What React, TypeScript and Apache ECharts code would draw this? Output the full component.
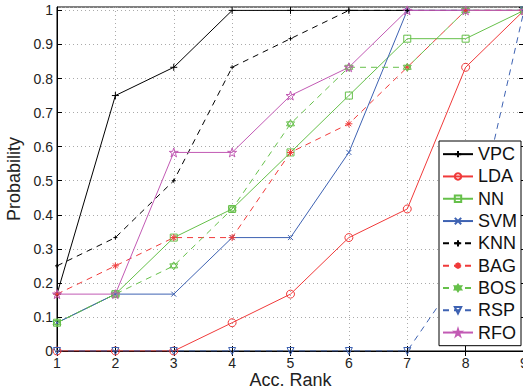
import React, { useEffect, useRef } from "react";
import * as echarts from "echarts";

const ranks = [1, 2, 3, 4, 5, 6, 7, 8, 9];
const vpc = [0.167, 0.75, 0.833, 1, 1, 1, 1, 1, 1];
const lda = [0, 0, 0, 0.083, 0.167, 0.333, 0.417, 0.833, 1];
const nn = [0.083, 0.167, 0.333, 0.417, 0.583, 0.75, 0.917, 0.917, 1];
const svm = [0.083, 0.167, 0.167, 0.333, 0.333, 0.583, 1, 1, 1];
const knn = [0.25, 0.333, 0.5, 0.833, 0.917, 1, 1, 1, 1];
const bag = [0.167, 0.25, 0.333, 0.333, 0.583, 0.667, 0.833, 1, 1];
const bos = [0.083, 0.167, 0.25, 0.417, 0.667, 0.833, 0.833, 1, 1];
const rsp = [0, 0, 0, 0, 0, 0, 0, 0.25, 1];
const rfo = [0.167, 0.167, 0.583, 0.583, 0.75, 0.833, 1, 1, 1];

const FONT = "Liberation Sans";

const PLUS = "path://M5,0L5,10M0,5L10,5";
const CROSS = "path://M0,0L10,10M10,0L0,10";
const AST = "path://M5,0L5,10M0,5L10,5M1.5,1.5L8.5,8.5M8.5,1.5L1.5,8.5";
const HEX = "path://M5,0L9.33,7.5L0.67,7.5ZM5,10L0.67,2.5L9.33,2.5Z";
const PENT =
  "path://M5,0L6.123,3.455L9.755,3.455L6.816,5.59L7.939,9.045L5,6.91L2.061,9.045L3.184,5.59L0.245,3.455L3.877,3.455Z";

const RED = "#f03a3a";
const GREEN = "#66c04a";
const BLUE = "#3e62b2";
const MAG = "#c25ab4";
const BLACK = "#000000";

type Def = {
  name: string;
  data: number[];
  color: string;
  dashed: boolean;
  symbol: string;
  size: number;
  rotate?: number;
};

const defs: Def[] = [
  { name: "VPC", data: vpc, color: BLACK, dashed: false, symbol: PLUS, size: 7 },
  { name: "LDA", data: lda, color: RED, dashed: false, symbol: "circle", size: 8 },
  { name: "NN", data: nn, color: GREEN, dashed: false, symbol: "rect", size: 7 },
  { name: "SVM", data: svm, color: BLUE, dashed: false, symbol: CROSS, size: 5 },
  { name: "KNN", data: knn, color: BLACK, dashed: true, symbol: PLUS, size: 4 },
  { name: "BAG", data: bag, color: RED, dashed: true, symbol: AST, size: 7 },
  { name: "BOS", data: bos, color: GREEN, dashed: true, symbol: HEX, size: 8 },
  { name: "RSP", data: rsp, color: BLUE, dashed: true, symbol: "triangle", size: 7, rotate: 180 },
  { name: "RFO", data: rfo, color: MAG, dashed: false, symbol: PENT, size: 9 },
];

export default function App() {
  const ref = useRef<HTMLDivElement>(null);
  useEffect(() => {
    if (!ref.current) return;
    const chart = echarts.init(ref.current, null, { renderer: "svg" });
    const series = defs.map((d) => ({
      name: d.name,
      type: "line",
      data: ranks.map((r, i) => [r, d.data[i]]),
      symbol: d.symbol,
      symbolSize: d.size,
      symbolRotate: d.rotate || 0,
      showSymbol: true,
      xAxisIndex: 0,
      yAxisIndex: 0,
      lineStyle: {
        color: d.color,
        width: 1,
        type: d.dashed ? [6, 5] : "solid",
      },
      itemStyle: {
        color: "rgba(0,0,0,0)",
        borderColor: d.color,
        borderWidth: 1,
      },
      emphasis: { disabled: true },
    }));
    const tickLabelStyle = { fontFamily: FONT, fontSize: 14, color: "#222" };
    chart.setOption({
      animation: false,
      backgroundColor: "#ffffff",
      grid: {
        left: 57,
        top: 7,
        right: -1,
        bottom: 41,
        outerBoundsMode: "none",
        containLabel: false,
        show: true,
        borderColor: "#000",
        borderWidth: 1,
        backgroundColor: "transparent",
      },
      legend: {
        orient: "vertical",
        left: 439,
        top: 141,
        padding: [2, 4, 2, 3],
        itemGap: 0,
        itemWidth: 30,
        itemHeight: 8,
        backgroundColor: "#ffffff",
        borderColor: "#000",
        borderWidth: 1,
        textStyle: { fontFamily: FONT, fontSize: 18, color: "#111", lineHeight: 22.3 },
        data: defs.map((d) => d.name),
      },
      xAxis: [
        {
          type: "value",
          min: 1,
          max: 9,
          interval: 1,
          position: "bottom",
          name: "Acc. Rank",
          nameLocation: "middle",
          nameGap: 20,
          nameMoveOverlap: false,
          nameTextStyle: { fontFamily: FONT, fontSize: 18, lineHeight: 18, color: "#222" },
          axisLine: { show: true, lineStyle: { color: "#000", width: 1 } },
          axisTick: { show: true, inside: true, length: 5, lineStyle: { color: "#000" } },
          axisLabel: { ...tickLabelStyle, margin: 5, hideOverlap: false },
          splitLine: { show: true, lineStyle: { color: "#aaa", type: [1, 3], width: 1 } },
        },
        {
          type: "value",
          min: 1,
          max: 9,
          interval: 1,
          position: "top",
          axisLine: { show: true, lineStyle: { color: "#000", width: 1 } },
          axisTick: { show: true, inside: true, length: 5, lineStyle: { color: "#000" } },
          axisLabel: { show: false },
          splitLine: { show: false },
        },
      ],
      yAxis: [
        {
          type: "value",
          min: 0,
          max: 1.01,
          interval: 0.1,
          position: "left",
          name: "Probability",
          nameLocation: "middle",
          nameGap: 30,
          nameRotate: 90,
          nameTextStyle: { fontFamily: FONT, fontSize: 18, color: "#222" },
          axisLine: { show: true, lineStyle: { color: "#000", width: 1 } },
          axisTick: { show: true, inside: true, length: 5, lineStyle: { color: "#000" } },
          axisLabel: {
            ...tickLabelStyle,
            margin: 4,
            showMaxLabel: false,
            formatter: (v: number) => String(Math.round(v * 10) / 10),
          },
          splitLine: { show: true, lineStyle: { color: "#aaa", type: [1, 3], width: 1 } },
        },
        {
          type: "value",
          min: 0,
          max: 1.01,
          interval: 0.1,
          position: "right",
          axisLine: { show: true, lineStyle: { color: "#000", width: 1 } },
          axisTick: { show: true, inside: true, length: 5, lineStyle: { color: "#000" } },
          axisLabel: { show: false },
          splitLine: { show: false },
        },
      ],
      series,
    });
    return () => chart.dispose();
  }, []);
  return (
    <div
      ref={ref}
      style={{ position: "fixed", left: 0, top: 0, width: 523, height: 392 }}
    />
  );
}
